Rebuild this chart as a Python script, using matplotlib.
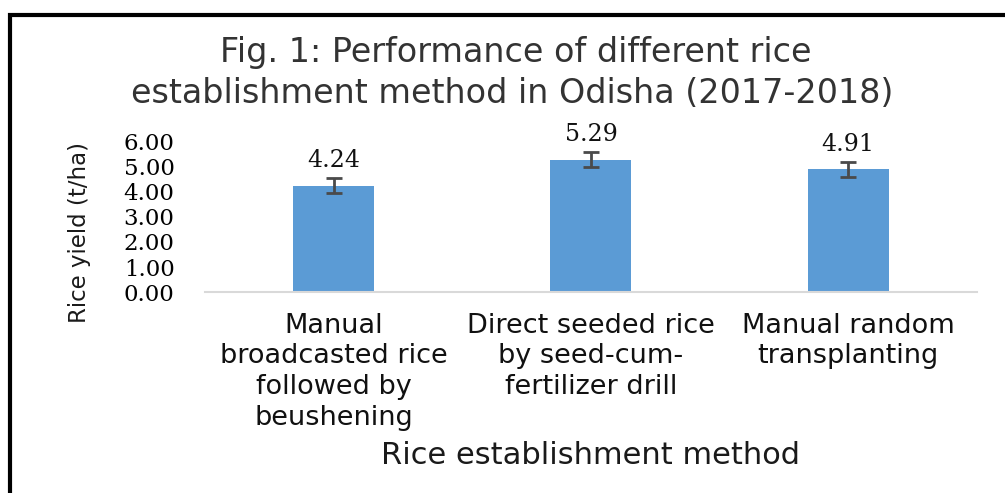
import matplotlib
matplotlib.use("Agg")
import matplotlib.pyplot as plt
from matplotlib.patches import Rectangle

# data
methods = ["Manual\nbroadcasted rice\nfollowed by\nbeushening",
           "Direct seeded rice\nby seed-cum-\nfertilizer drill",
           "Manual random\ntransplanting"]
yields = [4.24, 5.29, 4.91]
errors = [0.3, 0.3, 0.3]
yticks = [0, 1, 2, 3, 4, 5, 6]

sans = ["DejaVu Sans"]
serif = ["DejaVu Serif"]

fig = plt.figure(figsize=(10.05, 4.93), dpi=100)
ax = fig.add_axes([0.204, 0.4077, 0.768, 0.3043])

x = range(len(methods))
ax.bar(x, yields, width=0.315, color="#5B9BD5", zorder=2)
ax.errorbar(x, yields, yerr=errors, fmt="none", ecolor="#4a4a4a",
            elinewidth=2, capsize=6, capthick=2, zorder=3)

for i, v in enumerate(yields):
    ax.annotate("%.2f" % v, (i, v), xytext=(0, 18), textcoords="offset points",
                ha="center", va="center", fontsize=17, family=serif, color="#111111")

ax.set_xlim(-0.5, 2.5)
ax.set_ylim(0, 6)
ax.set_yticks(yticks)
ax.set_yticklabels(["%.2f" % t for t in yticks], family=serif, fontsize=16.5)
ax.set_xticks(list(x))
ax.set_xticklabels(methods, family=sans, fontsize=19.5, linespacing=1.23, color="#111111")
ax.tick_params(axis="y", length=0, pad=22)
ax.tick_params(axis="x", length=0, pad=15)

for s in ["top", "right", "left"]:
    ax.spines[s].set_visible(False)
ax.spines["bottom"].set_color("#D9D9D9")
ax.spines["bottom"].set_linewidth(1.5)

ax.set_xlabel("Rice establishment method", family=sans, fontsize=22, color="#1a1a1a")
ax.xaxis.set_label_coords(0.5, -1.087)
ax.xaxis.label.set_va("center")

fig.text(0.079, 0.529, "Rice yield (t/ha)", rotation=90, ha="center", va="center",
         family=sans, fontsize=16.5, color="#1a1a1a")

fig.text(0.513, 0.8925, "Fig. 1: Performance of different rice", ha="center", va="center",
         family=sans, fontsize=24, color="#333333")
fig.text(0.510, 0.811, "establishment method in Odisha (2017-2018)", ha="center", va="center",
         family=sans, fontsize=24, color="#333333")

# outer frame (only left and top are visible in the reference)
fig.patches.append(Rectangle((0.010, -0.1), 1.2, 0.9696 + 0.1, transform=fig.transFigure,
                             fill=False, edgecolor="black", linewidth=3))

fig.savefig("out.png", dpi=100)
